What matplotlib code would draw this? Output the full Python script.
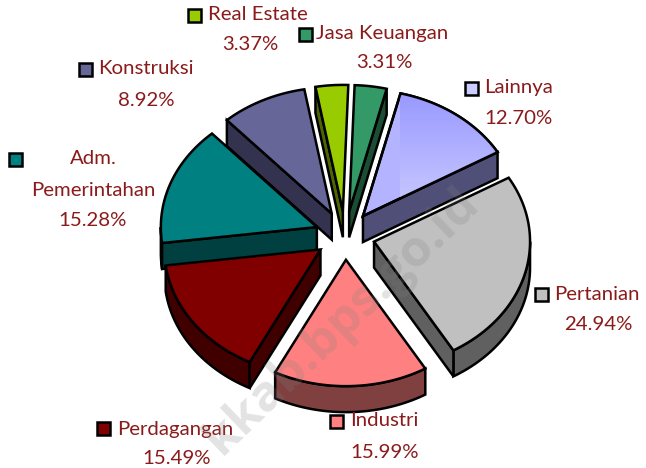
import matplotlib
matplotlib.use('Agg')
import matplotlib.pyplot as plt
from matplotlib.patches import Polygon, Rectangle
import numpy as np

# data, clockwise from the top
categories = ['Jasa Keuangan', 'Lainnya', 'Pertanian', 'Industri', 'Perdagangan',
              'Adm. Pemerintahan', 'Konstruksi', 'Real Estate']
values = [3.31, 12.70, 24.94, 15.99, 15.49, 15.28, 8.92, 3.37]
top_colors = ['#339966', '#B3B3FF', '#C0C0C0', '#FF8080', '#800000', '#008080', '#666699', '#99CC00']
side_colors = ['#1A4D33', '#4F4F78', '#606060', '#804040', '#400000', '#004040', '#333350', '#4D6600']

plt.rcParams['font.family'] = ['Lato', 'DejaVu Sans']
text_color = '#8B1A1A'

# pie geometry in pixels
cx, cy = 345, 235.5
radius = 156
tilt = 0.81
depth = 26
explode = 30
start_angle = 2.0
line_w = 1.8

fig = plt.figure(figsize=(6.46, 4.68), dpi=100)
ax = fig.add_axes([0, 0, 1, 1])


def point(theta, r, ox, oy):
    t = np.radians(theta)
    return ox + r * np.sin(t), oy - r * tilt * np.cos(t)


def add_poly(xs, ys, color, z):
    p = Polygon(np.column_stack([xs, ys]), closed=True, facecolor=color,
                edgecolor='black', linewidth=line_w, joinstyle='miter', zorder=z)
    ax.add_patch(p)
    return p


bounds = start_angle + np.concatenate([[0], np.cumsum(values)]) * 3.6
mids = (bounds[:-1] + bounds[1:]) / 2
# back slices first
order = np.argsort(-np.cos(np.radians(mids)))

for z, i in enumerate(order):
    a, b = bounds[i], bounds[i + 1]
    ox, oy = point(mids[i], explode, cx, cy)
    base = 10 * z

    # outer band, only the part that faces the viewer
    lo, hi = max(a, 90), min(b, 270)
    if hi > lo:
        th = np.linspace(lo, hi, 60)
        x, y = point(th, radius, ox, oy)
        add_poly(np.r_[x, x[::-1]], np.r_[y, y[::-1] + depth], side_colors[i], base + 1)

    # cut faces
    if np.sin(np.radians(b)) > 0.05:
        x, y = point(b, radius, ox, oy)
        add_poly([ox, x, x, ox], [oy, y, y + depth, oy + depth], side_colors[i], base + 2)
    if np.sin(np.radians(a)) < -0.05:
        x, y = point(a, radius, ox, oy)
        add_poly([ox, x, x, ox], [oy, y, y + depth, oy + depth], side_colors[i], base + 2)

    # top face
    th = np.linspace(a, b, 80)
    x, y = point(th, radius, ox, oy)
    top = add_poly(np.r_[ox, x], np.r_[oy, y], top_colors[i], base + 4)

    if categories[i] == 'Lainnya':
        # blue gradient on this slice
        grad = np.linspace(0, 1, 100).reshape(-1, 1)
        cmap = matplotlib.colors.LinearSegmentedColormap.from_list('g', ['#9999FF', '#CCCCFF'])
        im = ax.imshow(grad, cmap=cmap, extent=[x.min(), x.max(), oy, y.min()],
                       aspect='auto', zorder=base + 5)
        im.set_clip_path(top)
        add_poly(np.r_[ox, x], np.r_[oy, y], 'none', base + 6)

ax.set_xlim(0, 646)
ax.set_ylim(468, 0)
ax.axis('off')

# watermark
ax.text(342, 322, 'kkab.bps.go.id', rotation=44, rotation_mode='anchor', ha='center', va='center',
        fontsize=36, fontweight='bold', color='#808080', alpha=0.22, zorder=200,
        family=['Open Sans', 'DejaVu Sans'])


def swatch(x, y, color):
    ax.add_patch(Rectangle((x - 6.5, y - 6.5), 13, 13, facecolor=color, edgecolor='black',
                           linewidth=line_w, zorder=150))


def label(x, y, s, ha='center'):
    ax.text(x, y, s, ha=ha, va='center', fontsize=14.7, color=text_color, zorder=150)


colors = dict(zip(categories, top_colors))
pct = {c: f'{v:.2f}%' for c, v in zip(categories, values)}

swatch(194, 15, colors['Real Estate'])
label(208, 15, 'Real Estate', 'left')
label(250, 45, pct['Real Estate'])

swatch(305, 34, colors['Jasa Keuangan'])
label(316, 34, 'Jasa Keuangan', 'left')
label(384, 63, pct['Jasa Keuangan'])

swatch(471, 88, '#CCCCFF')
label(484, 88, 'Lainnya', 'left')
label(518, 118, pct['Lainnya'])

swatch(541, 294, colors['Pertanian'])
label(554, 295, 'Pertanian', 'left')
label(598, 324, pct['Pertanian'])

swatch(336, 421, colors['Industri'])
label(350, 421, 'Industri', 'left')
label(385, 452, pct['Industri'])

swatch(103, 428, colors['Perdagangan'])
label(117, 429, 'Perdagangan', 'left')
label(177, 459, pct['Perdagangan'])

swatch(15, 159, colors['Adm. Pemerintahan'])
label(93, 159, 'Adm.')
label(93, 190, 'Pemerintahan')
label(93, 220, pct['Adm. Pemerintahan'])

swatch(85, 69, colors['Konstruksi'])
label(98, 69, 'Konstruksi', 'left')
label(146, 100, pct['Konstruksi'])

fig.savefig('out.png', dpi=100)
